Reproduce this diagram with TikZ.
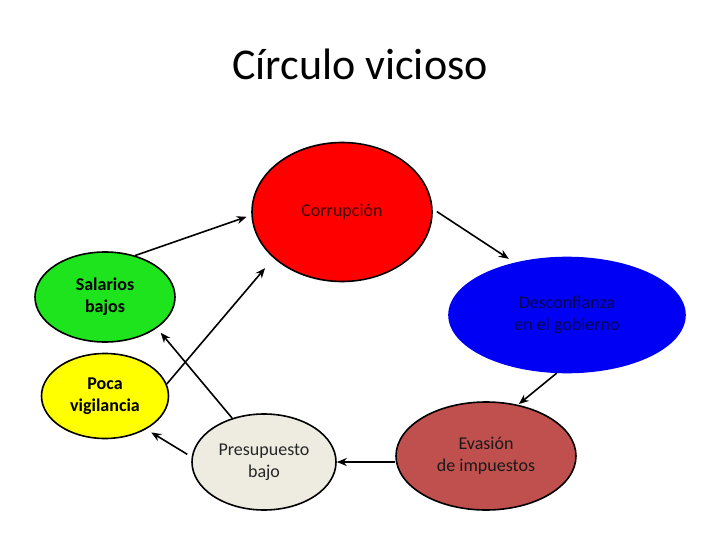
\documentclass[tikz,border=0pt]{standalone}
\usepackage{fontspec}
\setmainfont{Carlito}
\usepackage{xcolor}
\usetikzlibrary{shapes.geometric,arrows.meta,positioning}

\definecolor{verde}{RGB}{30,228,30}
\definecolor{rojo}{RGB}{255,0,0}
\definecolor{azul}{RGB}{0,0,245}
\definecolor{amarillo}{RGB}{255,255,0}
\definecolor{crema}{RGB}{238,236,225}
\definecolor{ladrillo}{RGB}{192,80,77}
\definecolor{vino}{RGB}{70,0,0}
\definecolor{marino}{RGB}{10,5,80}

\begin{document}
\begin{tikzpicture}[
    x=1pt, y=-1pt,
    bubble/.style={ellipse, draw=black, line width=1.6pt, inner sep=0pt, align=center, font=\fontsize{18}{22}\selectfont},
    boldbubble/.style={bubble, font=\fontsize{18}{22}\selectfont\bfseries},
    arrow/.style={-{Stealth[length=10pt,width=8pt]}, line width=1.6pt},
    title/.style={font=\fontsize{44}{52}\selectfont}
]
\useasboundingbox (0,0) rectangle (720,540);

% Title
\node[title, anchor=base] (titulo) at (360,80) {Círculo vicioso};

% Causes and effects
\node[bubble, fill=rojo, text=vino, minimum width=180, minimum height=139] (corrupcion) at (342,212) {Corrupción};
\node[boldbubble, fill=verde, minimum width=140, minimum height=90] (salarios) at (105,297) {Salarios\\bajos};
\node[bubble, fill=azul, draw=azul, text=marino, minimum width=236, minimum height=115] (desconfianza) at (567,315) {Desconfianza\\en el gobierno};
\node[boldbubble, fill=amarillo, minimum width=127, minimum height=85] (poca) at (105,396) {Poca\\vigilancia};
\node[bubble, fill=crema, text=black!85, minimum width=144, minimum height=96] (presupuesto) at (264,462) {Presupuesto\\bajo};
\node[bubble, fill=ladrillo, text=black!90, minimum width=180, minimum height=108] (evasion) at (486,456) {Evasión\\de impuestos};

% Arrows - around the circle
\draw[arrow, shorten >=5pt] (salarios.54) -- (corrupcion.182);
\draw[arrow, shorten <=5pt, shorten >=7pt] (corrupcion.2) -- (desconfianza.135);
\draw[arrow, shorten >=1pt] (desconfianza.260) -- (evasion.58);
\draw[arrow] (evasion.west |- presupuesto.east) -- (presupuesto.east);

% Arrows - back to the start
\draw[arrow, shorten >=6pt] (presupuesto.126) -- (salarios.-31);
\draw[arrow, shorten <=5pt, shorten >=6pt] (presupuesto.176) -- (poca.-39);
\draw[arrow, shorten >=13pt] (poca.11) -- (corrupcion.214);

\end{tikzpicture}
\end{document}
